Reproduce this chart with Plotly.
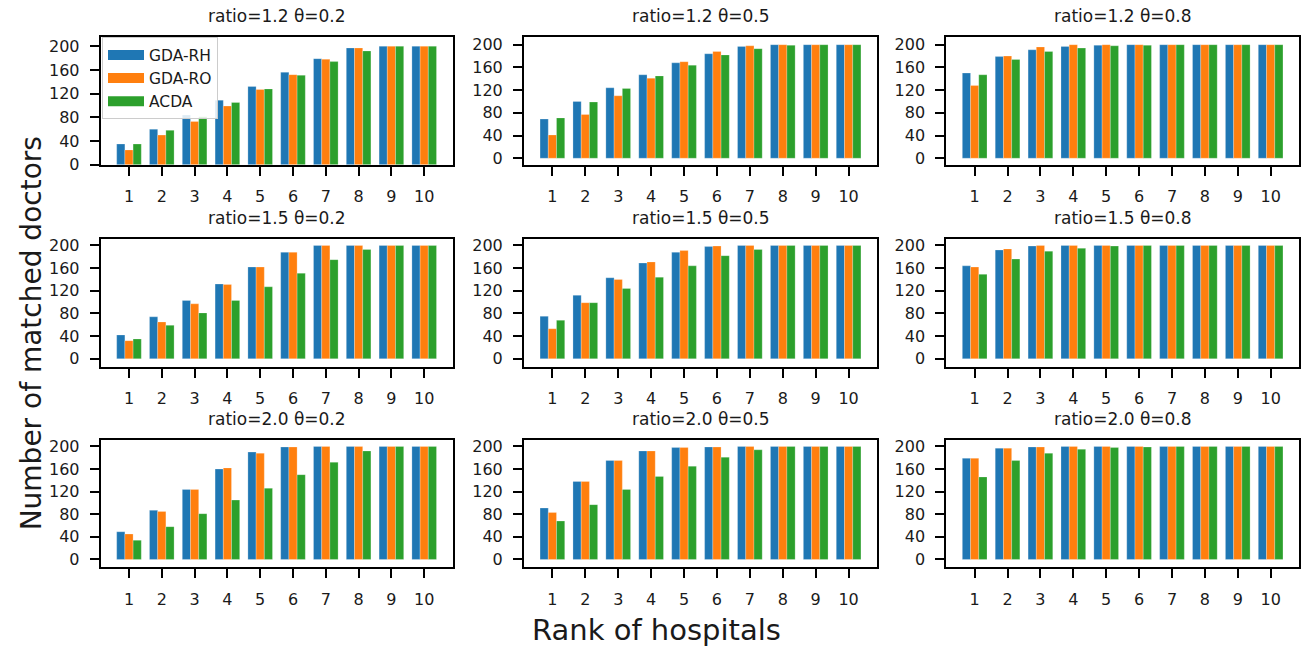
import plotly.graph_objects as go

# ---------------- data ----------------
ranks = [1, 2, 3, 4, 5, 6, 7, 8, 9, 10]
tick_labels = ["1", "2", "3", "4", "5", "6", "7", "8", "9", "10"]
y_ticks = [0, 40, 80, 120, 160, 200]
series_names = ["GDA-RH", "GDA-RO", "ACDA"]

panel_titles = [
    "ratio=1.2 θ=0.2", "ratio=1.2 θ=0.5", "ratio=1.2 θ=0.8",
    "ratio=1.5 θ=0.2", "ratio=1.5 θ=0.5", "ratio=1.5 θ=0.8",
    "ratio=2.0 θ=0.2", "ratio=2.0 θ=0.5", "ratio=2.0 θ=0.8",
]

# ratio=1.2
rh_r12_t02 = [35, 60, 84, 109, 132, 156, 179, 197, 200, 200]
ro_r12_t02 = [25, 50, 73, 99, 127, 152, 178, 197, 200, 200]
ac_r12_t02 = [35, 58, 81, 105, 128, 151, 174, 192, 200, 200]

rh_r12_t05 = [69, 100, 124, 147, 168, 184, 197, 200, 200, 200]
ro_r12_t05 = [41, 77, 110, 141, 170, 188, 198, 200, 200, 200]
ac_r12_t05 = [71, 99, 123, 145, 164, 182, 193, 199, 200, 200]

rh_r12_t08 = [150, 179, 191, 197, 199, 200, 200, 200, 200, 200]
ro_r12_t08 = [128, 180, 196, 200, 200, 200, 200, 200, 200, 200]
ac_r12_t08 = [147, 174, 188, 194, 198, 199, 200, 200, 200, 200]

# ratio=1.5
rh_r15_t02 = [42, 74, 103, 132, 162, 188, 200, 200, 200, 200]
ro_r15_t02 = [32, 65, 97, 131, 162, 188, 200, 200, 200, 200]
ac_r15_t02 = [35, 59, 81, 103, 127, 151, 175, 193, 200, 200]

rh_r15_t05 = [75, 112, 143, 169, 188, 198, 200, 200, 200, 200]
ro_r15_t05 = [53, 99, 140, 171, 191, 199, 200, 200, 200, 200]
ac_r15_t05 = [68, 99, 124, 144, 164, 182, 193, 200, 200, 200]

rh_r15_t08 = [164, 192, 199, 200, 200, 200, 200, 200, 200, 200]
ro_r15_t08 = [162, 194, 200, 200, 200, 200, 200, 200, 200, 200]
ac_r15_t08 = [149, 176, 190, 195, 199, 200, 200, 200, 200, 200]

# ratio=2.0
rh_r20_t02 = [49, 87, 124, 160, 190, 199, 200, 200, 200, 200]
ro_r20_t02 = [45, 85, 124, 162, 188, 199, 200, 200, 200, 200]
ac_r20_t02 = [34, 58, 81, 105, 126, 150, 172, 192, 200, 200]

rh_r20_t05 = [91, 138, 175, 192, 198, 199, 200, 200, 200, 200]
ro_r20_t05 = [83, 138, 175, 192, 198, 199, 200, 200, 200, 200]
ac_r20_t05 = [68, 97, 124, 147, 165, 181, 194, 200, 200, 200]

rh_r20_t08 = [179, 197, 199, 200, 200, 200, 200, 200, 200, 200]
ro_r20_t08 = [179, 197, 199, 200, 200, 200, 200, 200, 200, 200]
ac_r20_t08 = [146, 175, 188, 195, 198, 199, 200, 200, 200, 200]

panels = [
    (rh_r12_t02, ro_r12_t02, ac_r12_t02),
    (rh_r12_t05, ro_r12_t05, ac_r12_t05),
    (rh_r12_t08, ro_r12_t08, ac_r12_t08),
    (rh_r15_t02, ro_r15_t02, ac_r15_t02),
    (rh_r15_t05, ro_r15_t05, ac_r15_t05),
    (rh_r15_t08, ro_r15_t08, ac_r15_t08),
    (rh_r20_t02, ro_r20_t02, ac_r20_t02),
    (rh_r20_t05, ro_r20_t05, ac_r20_t05),
    (rh_r20_t08, ro_r20_t08, ac_r20_t08),
]

# ---------------- layout / style ----------------
W, H = 1301, 660
FONT = "DejaVu Sans"
TXT = "#1a1a1a"
colors = ["#1f77b4", "#ff7f0e", "#2ca02c"]
col_px = [(100.7, 452.5), (524.0, 877.0), (946.3, 1299.0)]
row_px = [(35.0, 165.0), (241.0, 371.0), (446.0, 575.7)]
y_ranges = [
    [[0, 215], [-11.5, 213], [-11.5, 213]],
    [[-14, 211], [-14, 211], [-14, 211]],
    [[-14, 211], [-14, 211], [-14, 211]],
]
x_range = [0.1375, 10.8625]

fig = go.Figure()
layout = dict(
    width=W, height=H,
    margin=dict(l=0, r=0, t=0, b=0),
    paper_bgcolor="white", plot_bgcolor="white",
    barmode="group", bargap=0.25, bargroupgap=0,
    font=dict(family=FONT, color=TXT),
    showlegend=True,
    legend=dict(
        x=102 / W, y=1 - 35 / H, xanchor="left", yanchor="top",
        bgcolor="rgba(255,255,255,0.85)", bordercolor="#cccccc", borderwidth=1,
        font=dict(family=FONT, size=15.5, color=TXT),
        itemwidth=36, tracegroupgap=0,
    ),
)

annotations = []
for k, vals in enumerate(panels):
    r, c = divmod(k, 3)
    ax = "" if k == 0 else str(k + 1)
    x0, x1 = col_px[c]
    y0, y1 = row_px[r]
    for s in range(3):
        fig.add_trace(go.Bar(
            x=ranks, y=vals[s], name=series_names[s],
            marker=dict(color=colors[s], line=dict(color="rgba(255,255,255,0.4)", width=0.6)),
            xaxis="x" + ax, yaxis="y" + ax, showlegend=False,
        ))
    axis_common = dict(
        showline=True, mirror=True, linecolor="black", linewidth=2,
        showgrid=False, zeroline=False,
        ticks="outside", tickwidth=2, tickcolor="black",
        tickfont=dict(family=FONT, size=16, color=TXT),
    )
    layout["xaxis" + ax] = dict(
        axis_common, domain=[x0 / W, x1 / W], range=x_range,
        tickvals=ranks, ticktext=tick_labels, ticklen=9,
        ticklabelstandoff=7,
        anchor="y" + ax,
    )
    layout["yaxis" + ax] = dict(
        axis_common, domain=[1 - y1 / H, 1 - y0 / H], range=y_ranges[r][c],
        tickvals=y_ticks, ticklen=9, ticklabelstandoff=7,
        anchor="x" + ax,
    )
    annotations.append(dict(
        text=panel_titles[k], xref="paper", yref="paper",
        x=(x0 + x1) / 2 / W, y=1 - (y0 - 34) / H,
        xanchor="center", yanchor="top", showarrow=False,
        font=dict(family=FONT, size=17, color=TXT),
    ))

# legend entries (wide patches like the reference)
for s in range(3):
    fig.add_trace(go.Scatter(
        x=[None], y=[None], mode="lines", name=series_names[s],
        line=dict(color=colors[s], width=10), xaxis="x", yaxis="y",
        showlegend=True,
    ))

annotations.append(dict(
    text="Number of matched doctors", xref="paper", yref="paper",
    x=31 / W, y=1 - 337 / H, xanchor="center", yanchor="middle",
    textangle=-90, showarrow=False,
    font=dict(family=FONT, size=28, color=TXT),
))
annotations.append(dict(
    text="Rank of hospitals", xref="paper", yref="paper",
    x=656 / W, y=1 - 640 / H, xanchor="center", yanchor="middle",
    showarrow=False,
    font=dict(family=FONT, size=29, color=TXT),
))
layout["annotations"] = annotations
fig.update_layout(**layout)

fig.write_html(
    "out.html",
    config={"displayModeBar": False},
    post_script="document.body.style.margin='0px';",
)
